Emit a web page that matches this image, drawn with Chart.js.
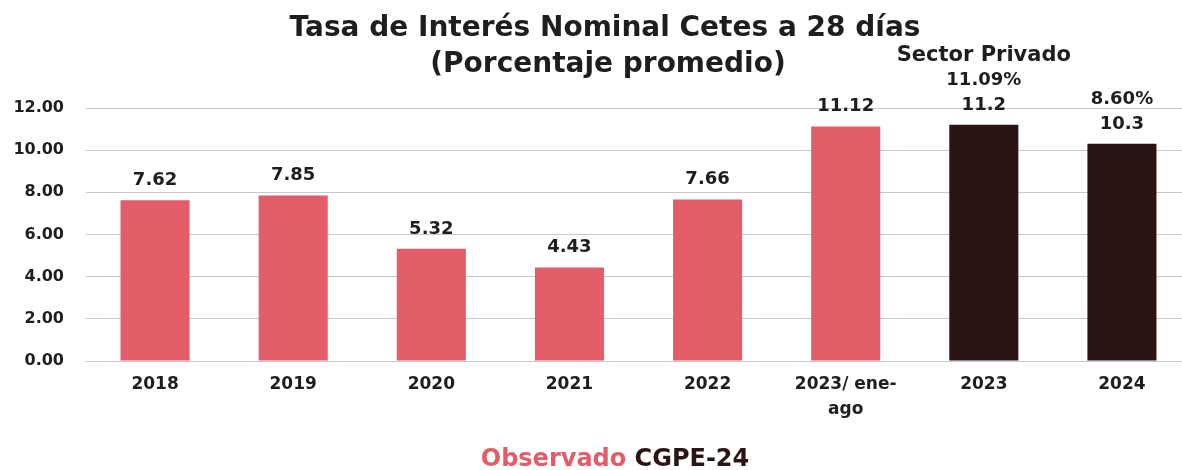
<!DOCTYPE html>
<html>
<head>
<meta charset="utf-8">
<script src="https://cdn.jsdelivr.net/npm/chart.js@4"></script>
<style>
  html, body { margin: 0; padding: 0; background: #fff; overflow: hidden; }
  #wrap { width: 1182px; height: 470px; overflow: hidden; }
</style>
</head>
<body>
<div id="wrap"><canvas id="chart" width="1200" height="470"></canvas></div>
<script>
// Tasa de Interés Nominal Cetes a 28 días
const categories = ['2018', '2019', '2020', '2021', '2022', ['2023/ ene-', 'ago'], '2023', '2024'];
const values = [7.62, 7.85, 5.32, 4.43, 7.66, 11.12, 11.2, 10.3];
const valueLabels = ['7.62', '7.85', '5.32', '4.43', '7.66', '11.12', '11.2', '10.3'];
const privateLabels = ['', '', '', '', '', '', '11.09%', '8.60%'];
const sources = ['obs', 'obs', 'obs', 'obs', 'obs', 'obs', 'cgpe', 'cgpe'];
const yTicks = [0, 2, 4, 6, 8, 10, 12];

const PINK = '#e35d69';
const DARK = '#2a1414';
const TEXT = '#1e1e1e';
const FONT = '"DejaVu Sans", sans-serif';

// labels over bars, titles and bottom legend
const extras = {
  id: 'extras',
  afterDatasetsDraw(chart) {
    const ctx = chart.ctx;
    const bars = chart.getDatasetMeta(0).data;
    ctx.save();
    ctx.textAlign = 'center';
    ctx.textBaseline = 'middle';
    ctx.fillStyle = TEXT;
    ctx.font = 'bold 18px ' + FONT;
    bars.forEach((bar, i) => {
      ctx.fillText(valueLabels[i], bar.x, bar.y - 20);
      if (privateLabels[i]) ctx.fillText(privateLabels[i], bar.x, bar.y - 45);
    });
    // "Sector Privado" over the first CGPE bar
    const firstCgpe = sources.indexOf('cgpe');
    ctx.font = 'bold 21px ' + FONT;
    ctx.fillText('Sector Privado', bars[firstCgpe].x, bars[firstCgpe].y - 69);

    // title
    ctx.font = 'bold 28px ' + FONT;
    ctx.fillText('Tasa de Interés Nominal Cetes a 28 días', 605, 29);
    ctx.fillText('(Porcentaje promedio)', 608, 65);

    // legend
    ctx.font = 'bold 24px ' + FONT;
    const a = 'Observado ', b = 'CGPE-24';
    const wa = ctx.measureText(a).width, wb = ctx.measureText(b).width;
    const x = 615 - (wa + wb) / 2;
    ctx.textAlign = 'left';
    ctx.fillStyle = PINK;
    ctx.fillText(a, x, 460);
    ctx.fillStyle = DARK;
    ctx.fillText(b, x + wa, 460);
    ctx.restore();
  }
};

new Chart(document.getElementById('chart'), {
  type: 'bar',
  data: {
    labels: categories,
    datasets: [{
      data: values,
      backgroundColor: sources.map(s => s === 'obs' ? PINK : DARK),
      barPercentage: 0.5,
      categoryPercentage: 1.0
    }]
  },
  options: {
    responsive: false,
    animation: false,
    layout: { padding: { top: 108, left: 13, right: 9, bottom: 45 } },
    plugins: {
      legend: { display: false },
      title: { display: false },
      tooltip: { enabled: false }
    },
    scales: {
      x: {
        grid: { display: false },
        border: { color: '#c8c8c8' },
        afterFit: s => { s.paddingLeft = 0; s.paddingRight = 0; },
        ticks: {
          color: TEXT,
          font: { family: FONT, size: 17, weight: 'bold', lineHeight: 1.47 },
          padding: 3,
          maxRotation: 0
        }
      },
      y: {
        min: 0,
        max: 12,
        afterBuildTicks: axis => { axis.ticks = yTicks.map(v => ({ value: v })); },
        afterFit: s => { s.width = 73; },
        grid: { color: '#c8c8c8', drawTicks: false },
        border: { display: false },
        ticks: {
          color: TEXT,
          font: { family: FONT, size: 16, weight: 'bold' },
          padding: 22,
          callback: v => v.toFixed(2)
        }
      }
    }
  },
  plugins: [extras]
});
</script>
</body>
</html>
